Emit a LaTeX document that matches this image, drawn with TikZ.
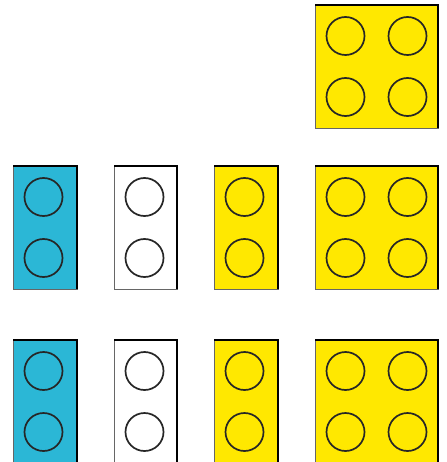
\documentclass[tikz,border=0pt]{standalone}
\usepackage{xcolor}
\usepackage{tikz}
\definecolor{legoblue}{HTML}{2BB7D6}
\definecolor{legoyellow}{HTML}{FFE800}
\tikzset{
  brickbox/.style={draw=black!60,line width=0.6pt},
  brickedge/.style={black,line width=1.8pt},
  studring/.style={draw=black!85,line width=1.7pt},
}
% brick: left, top, width, number of stud columns, fill
\newcommand{\legobrick}[5]{%
  \filldraw[brickbox,fill=#5] (#1,#2) rectangle ({#1+#3},{#2+123});
  \draw[brickedge] (#1,#2) -- ({#1+#3},#2) -- ({#1+#3},{#2+123});
  \foreach \cc in {1,...,#4}{
    \foreach \rr in {0,1}{
      \draw[studring] ({#1+30.5+62*(\cc-1)},{#2+31+61*\rr}) circle (19);
    }
  }
}

\begin{document}
\begin{tikzpicture}[x=1pt,y=-1pt]
  \useasboundingbox (0,0) rectangle (446,462);
  % top
  \legobrick{315}{5}{123}{2}{legoyellow}
  % middle row
  \legobrick{13}{166}{64}{1}{legoblue}
  \legobrick{114}{166}{63}{1}{white}
  \legobrick{214}{166}{64}{1}{legoyellow}
  \legobrick{315}{166}{123}{2}{legoyellow}
  % bottom row
  \legobrick{13}{340}{64}{1}{legoblue}
  \legobrick{114}{340}{63}{1}{white}
  \legobrick{214}{340}{64}{1}{legoyellow}
  \legobrick{315}{340}{123}{2}{legoyellow}
\end{tikzpicture}
\end{document}
